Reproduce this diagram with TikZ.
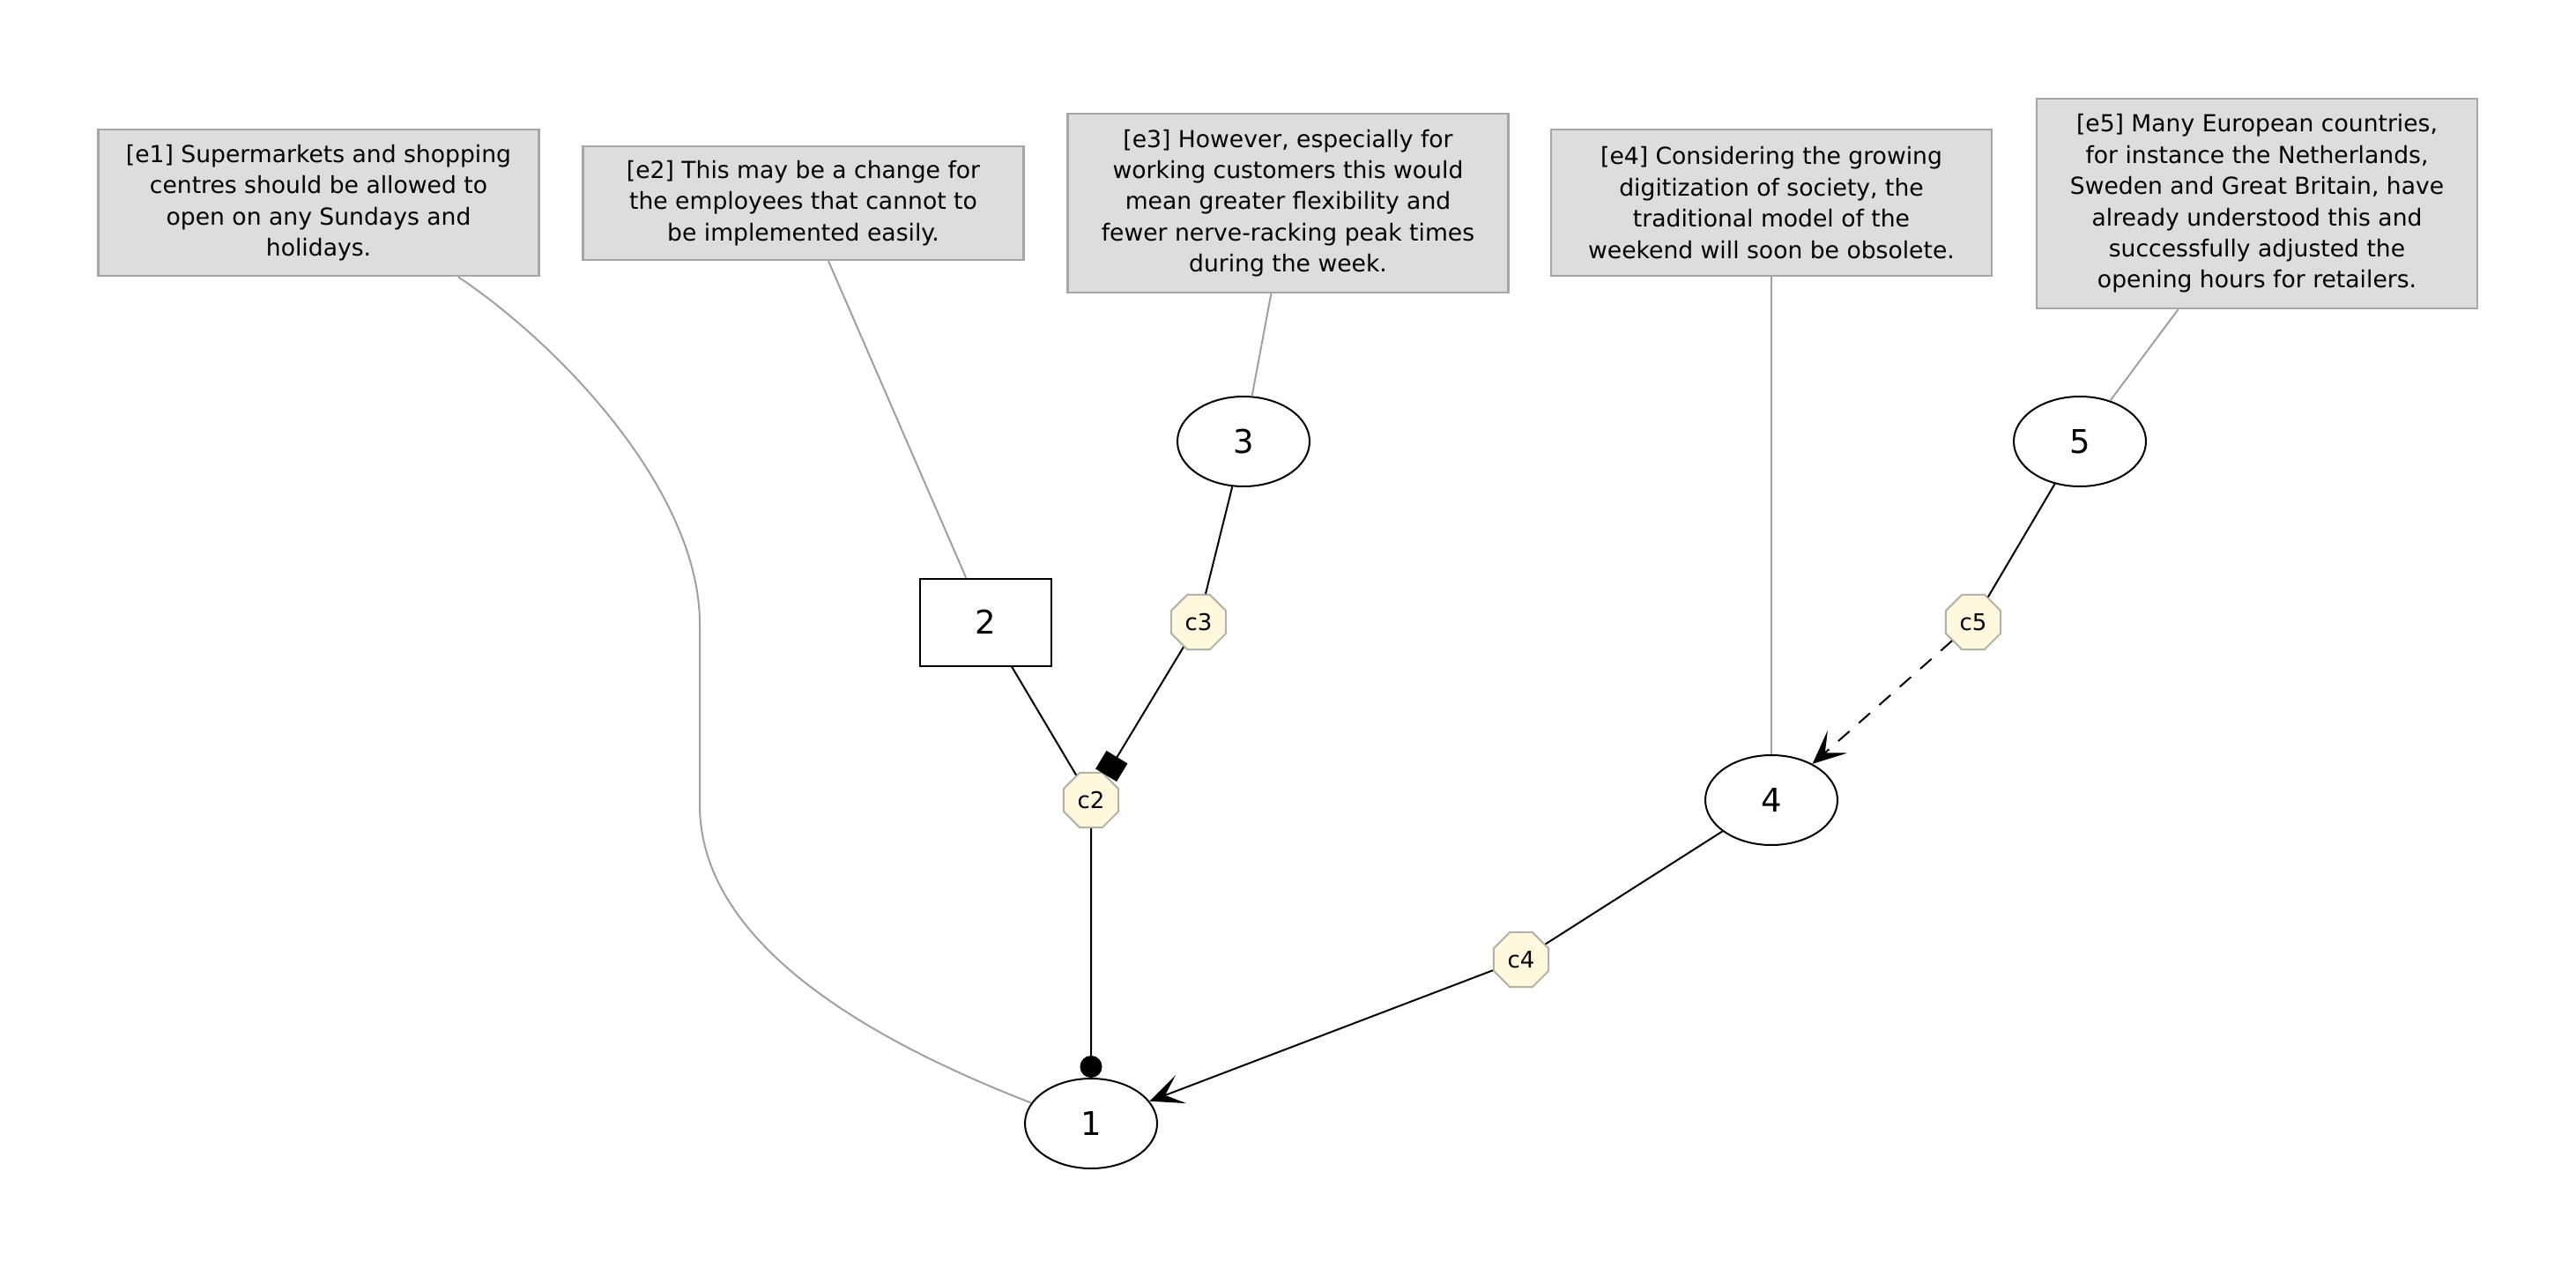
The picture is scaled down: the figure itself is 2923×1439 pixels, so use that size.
\documentclass[tikz,border=0pt]{standalone}
\usepackage{fontspec}
\setmainfont{DejaVu Sans}
\usetikzlibrary{shapes.geometric,arrows.meta}
\definecolor{boxfill}{HTML}{DDDDDD}
\definecolor{boxline}{HTML}{A6A6A6}
\definecolor{octfill}{HTML}{FFF8DC}
\definecolor{octline}{HTML}{B4B2A8}
\definecolor{linkgray}{HTML}{A0A0A0}
\begin{document}
\begin{tikzpicture}[x=0.5pt,y=-0.5pt,
  textbox/.style={draw=boxline,fill=boxfill,line width=1.2pt,minimum width=250pt,
    inner sep=0pt,align=center,font=\fontsize{13.3}{17.7}\selectfont},
  claim/.style={draw,ellipse,line width=1pt,minimum width=75pt,minimum height=51pt,
    inner sep=0pt,font=\fontsize{18.5}{20}\selectfont},
  claimbox/.style={draw,rectangle,line width=1pt,minimum width=74.5pt,minimum height=49.5pt,
    inner sep=0pt,font=\fontsize{18.5}{20}\selectfont},
  conn/.style={draw=octline,fill=octfill,regular polygon,regular polygon sides=8,
    line width=1pt,minimum size=33.6pt,inner sep=0pt,font=\fontsize{13}{14}\selectfont},
  evidence/.style={draw=linkgray,line width=1pt},
  link/.style={draw=black,line width=1pt},
  vee/.style={-{Stealth[length=19pt,width=17pt,inset=9.5pt]}}
]
\useasboundingbox (0,0) rectangle (2923,1439);

% evidence boxes
\node[textbox,minimum height=83pt] (e1) at (361.5,230)
  {[e1] Supermarkets and shopping\\centres should be allowed to\\open on any Sundays and\\holidays.};
\node[textbox,minimum height=64.5pt] (e2) at (911.5,230.5)
  {[e2] This may be a change for\\the employees that cannot to\\be implemented easily.};
\node[textbox,minimum height=101.5pt] (e3) at (1461.5,230.5)
  {[e3] However, especially for\\working customers this would\\mean greater flexibility and\\fewer nerve-racking peak times\\during the week.};
\node[textbox,minimum height=83pt] (e4) at (2010,230)
  {[e4] Considering the growing\\digitization of society, the\\traditional model of the\\weekend will soon be obsolete.};
\node[textbox,minimum height=119pt] (e5) at (2561,231)
  {[e5] Many European countries,\\for instance the Netherlands,\\Sweden and Great Britain, have\\already understood this and\\successfully adjusted the\\opening hours for retailers.};

% claims
\node[claim] (n1) at (1238,1275) {1};
\node[claimbox] (n2) at (1118,706) {2};
\node[claim] (n3) at (1411,501) {3};
\node[claim] (n4) at (2010,908) {4};
\node[claim] (n5) at (2360,501) {5};

% connectors
\node[conn] (c2) at (1238,908) {c2};
\node[conn] (c3) at (1360,706) {c3};
\node[conn] (c4) at (1726,1089) {c4};
\node[conn] (c5) at (2239,706) {c5};

% evidence links
\draw[evidence] (e1.-28.7) .. controls (640,395) and (794,560) .. (794,708)
  -- (794,913) .. controls (794,1060) and (960,1170) .. (n1.161);
\draw[evidence] (e2) -- (n2);
\draw[evidence] (e3) -- (n3);
\draw[evidence] (e4) -- (n4);
\draw[evidence] (e5) -- (n5);

% argument links
\draw[link] (n2) -- (c2);
\draw[link] (n3) -- (c3);
\draw[link,-{Square[length=12pt,width=14pt]}] (c3) -- (c2);
\draw[link,-{Circle[length=12.5pt]}] (c2) -- (n1);
\draw[link] (n4) -- (c4);
\draw[link,vee] (c4) -- (n1);
\draw[link] (n5) -- (c5);
\draw[link,vee,dash pattern=on 8.5pt off 7pt] (c5) -- (n4);
\end{tikzpicture}
\end{document}
